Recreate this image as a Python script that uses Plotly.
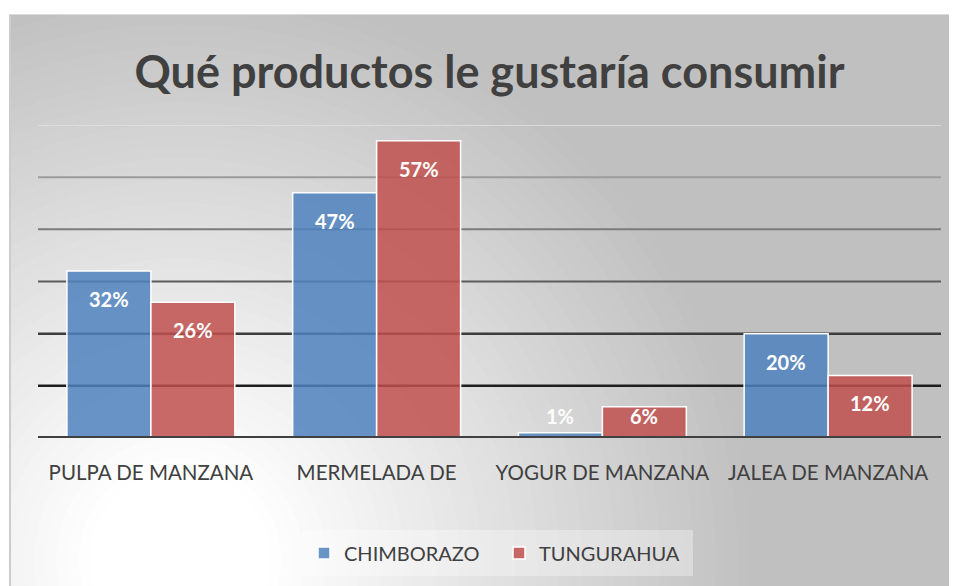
import plotly.graph_objects as go

# Chart data
categories = ["PULPA DE MANZANA", "MERMELADA DE", "YOGUR DE MANZANA", "JALEA DE MANZANA"]
chimborazo = [32, 47, 1, 20]
tungurahua = [26, 57, 6, 12]
grid_values = [10, 20, 30, 40, 50, 60]

# the page body adds an 8px margin, so the figure is drawn 8px up/left
OFF = 8
W, H = 957, 586 - OFF
ML, MR = 38 - OFF, W - (941 - OFF)
MT, MB = 125 - OFF, 586 - 438
PW, PH = W - ML - MR, H - MT - MB


def px_x(x):
    # reference pixel x -> paper x
    return (x - OFF - ML) / PW


def px_y(y):
    # reference pixel y -> paper y
    return (H - MB - (y - OFF)) / PH


fig = go.Figure()
fig.add_trace(
    go.Bar(
        x=categories,
        y=chimborazo,
        name="CHIMBORAZO",
        marker=dict(color="rgba(79,129,189,0.85)", line=dict(color="white", width=1.5)),
    )
)
fig.add_trace(
    go.Bar(
        x=categories,
        y=tungurahua,
        name="TUNGURAHUA",
        marker=dict(color="rgba(192,80,77,0.85)", line=dict(color="white", width=1.5)),
    )
)

shapes = []

# Gray base of the chart area
shapes.append(dict(type="rect", xref="paper", yref="paper", x0=-2, x1=3, y0=-2, y1=3,
                   fillcolor="rgb(192,192,192)", line=dict(width=0), layer="below"))

# Radial-ish background: stacked circles from gray to white
cx, cy = px_x(180), px_y(560)
steps = 45
r_max, r_min = 580, 90
for i in range(steps):
    r = r_max - (r_max - r_min) * i / (steps - 1)
    level = int(round(192 + (255 - 192) * (1 - (r - r_min) / (r_max - r_min))))
    shapes.append(
        dict(
            type="circle",
            xref="paper", yref="paper",
            xsizemode="pixel", ysizemode="pixel",
            xanchor=cx, yanchor=cy,
            x0=-r, x1=r, y0=-r, y1=r,
            fillcolor=f"rgb({level},{level},{level})",
            line=dict(width=0),
            layer="below",
        )
    )

# White margins outside the chart frame
shapes.append(dict(type="rect", xref="paper", yref="paper", x0=-2, x1=px_x(9), y0=-2, y1=3,
                   fillcolor="white", line=dict(width=0), layer="below"))
shapes.append(dict(type="rect", xref="paper", yref="paper", x0=-2, x1=3, y0=px_y(14), y1=3,
                   fillcolor="white", line=dict(width=0), layer="below"))
# Frame borders
shapes.append(dict(type="line", xref="paper", yref="paper", x0=px_x(10), x1=px_x(10), y0=px_y(600), y1=px_y(14),
                   line=dict(color="#cccccc", width=2), layer="below"))
shapes.append(dict(type="line", xref="paper", yref="paper", x0=px_x(9), x1=px_x(980), y0=px_y(14.5), y1=px_y(14.5),
                   line=dict(color="#dcdcdc", width=1), layer="below"))

# Legend backdrop
shapes.append(dict(type="rect", xref="paper", yref="paper", x0=px_x(302), x1=px_x(693), y0=px_y(576), y1=px_y(530),
                   fillcolor="rgba(255,255,255,0.32)", line=dict(width=0), layer="below"))

# Gridlines, darker towards the bottom
grid_colors = ["#1e1e1e", "#3c3c3c", "#5c5c5c", "#7b7b7b", "#9b9b9b", "#e2e2e2"]
grid_widths = [2.5, 2.5, 2, 2, 2, 1.5]
for gv, gc, gw in zip(grid_values, grid_colors, grid_widths):
    shapes.append(dict(type="line", xref="paper", yref="y", x0=0, x1=1, y0=gv, y1=gv,
                       line=dict(color=gc, width=gw), layer="below"))
# Category axis line
shapes.append(dict(type="line", xref="paper", yref="y", x0=0, x1=1, y0=0, y1=0,
                   line=dict(color="#404040", width=4), layer="above"))

# Data labels
annotations = []
for series, shift in ((chimborazo, -42), (tungurahua, 42)):
    for cat, v in zip(categories, series):
        if v >= 10:
            yv, ys = v, -28
        else:
            yv, ys = 0, 22
        annotations.append(
            dict(
                x=cat, y=yv, xref="x", yref="y",
                xshift=shift, yshift=ys,
                text=f"<b>{v}%</b>",
                showarrow=False,
                font=dict(family="Lato", size=20, color="white"),
                xanchor="center", yanchor="middle",
            )
        )

fig.update_layout(
    width=W,
    height=H,
    margin=dict(l=ML, r=MR, t=MT, b=MB),
    paper_bgcolor="white",
    plot_bgcolor="rgba(0,0,0,0)",
    barmode="group",
    bargap=0.256,
    bargroupgap=0,
    title=dict(
        text="<b>Qué productos le gustaría consumir</b>",
        font=dict(family="Lato", size=45, color="#404040"),
        x=0.5, xref="paper", xanchor="center",
        y=1 - (72 - OFF) / H, yref="container", yanchor="middle",
    ),
    legend=dict(
        orientation="h",
        x=px_x(304), xanchor="left",
        y=px_y(553), yanchor="middle",
        bgcolor="rgba(0,0,0,0)",
        font=dict(family="Lato", size=20, color="#404040"),
        entrywidth=150,
    ),
    shapes=shapes,
    annotations=annotations,
    showlegend=True,
)

fig.update_xaxes(
    showgrid=False, zeroline=False, showline=False,
    ticks="outside", ticklen=16, tickcolor="rgba(0,0,0,0)",
    tickfont=dict(family="Lato", size=20.5, color="#404040"),
)
fig.update_yaxes(range=[0, 60], showgrid=False, zeroline=False, showticklabels=False, showline=False)

fig.write_html("out.html")
